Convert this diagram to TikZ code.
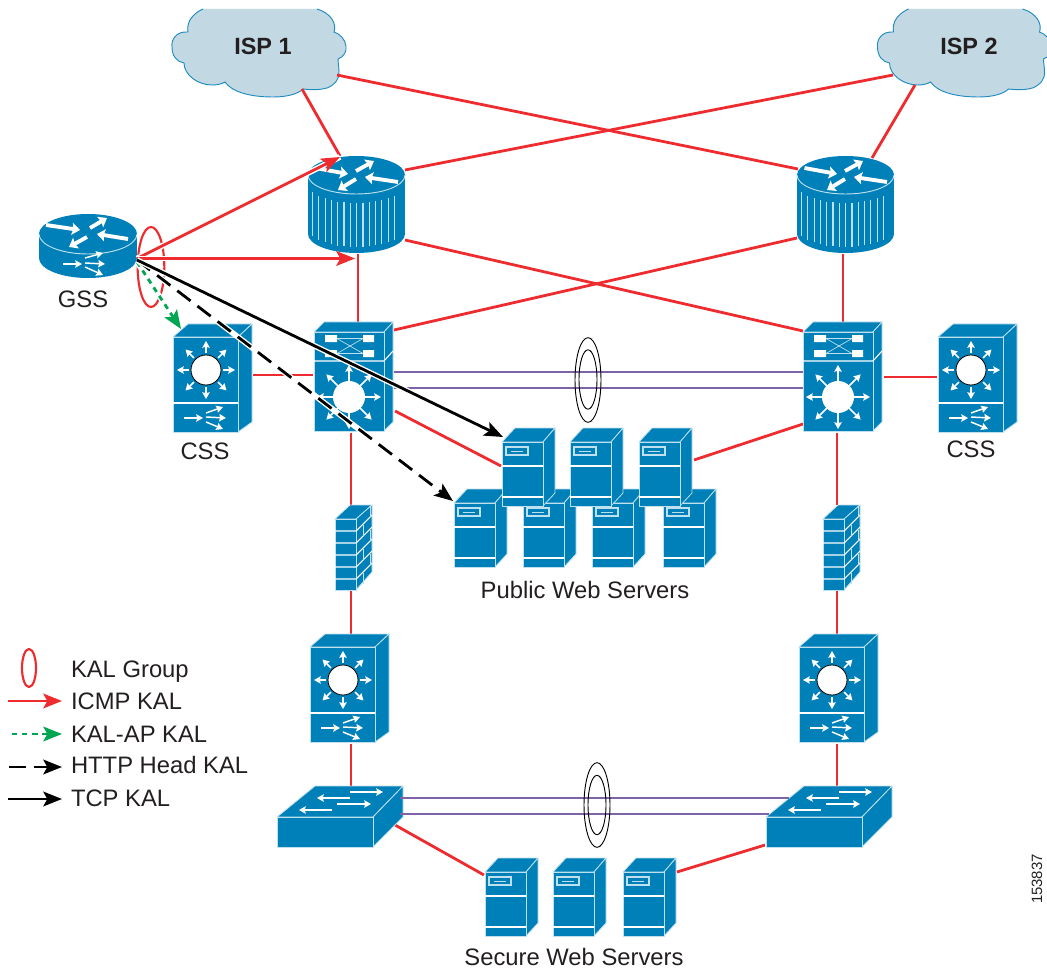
\documentclass[tikz,border=0pt]{standalone}
\usepackage{fontspec}
\setmainfont{Liberation Sans}
\usetikzlibrary{arrows.meta,shapes.geometric}
\definecolor{dev}{HTML}{0080B9}
\definecolor{edge}{HTML}{BFE0EE}
\definecolor{kred}{HTML}{EE2C2F}
\definecolor{kpur}{HTML}{7F63A8}
\definecolor{kgrn}{HTML}{00A651}
\definecolor{cloudf}{HTML}{C2D9E3}
\definecolor{cloude}{HTML}{1F8CC0}
\definecolor{txt}{HTML}{231F20}
\tikzset{
 hit/.style={inner sep=0pt,outer sep=0pt},
 solid3d/.style={fill=dev,draw=edge,line width=.6pt,line join=round},
 wl/.style={draw=white,line width=.8pt},
 wa/.style={draw=white,line width=1.1pt,-{Stealth[length=5pt,width=5.5pt,inset=.6pt]}},
 wb/.style={draw=white,line width=2.9pt,-{Stealth[length=6pt,width=9pt,inset=1pt]}},
 redl/.style={draw=kred,line width=2.1pt},
 purl/.style={draw=kpur,line width=2pt},
 ringl/.style={ellipse,draw=black,line width=.7pt,inner sep=0pt,outer sep=0pt},
 kalring/.style={ellipse,draw=kred,line width=1.6pt,inner sep=0pt,outer sep=0pt},
 label/.style={font=\fontsize{17.85pt}{20pt}\selectfont,text=txt,anchor=base,inner sep=0pt,outer sep=0pt},
 legtext/.style={label,anchor=base west},
 ispt/.style={font=\fontsize{17.6pt}{20pt}\selectfont\bfseries,text=txt,anchor=base,inner sep=0pt},
 halo/.style={preaction={draw=white,line width=4.2pt,solid,-}},
 icmp/.style={draw=kred,line width=2.1pt,-{Stealth[length=14pt,width=11pt,inset=3pt]}},
 kalap/.style={draw=kgrn,line width=2.1pt,dash pattern=on 4pt off 3.6pt,-{Stealth[length=14pt,width=11pt,inset=3pt,fill=kgrn]}},
 httph/.style={draw=black,line width=2.1pt,dash pattern=on 12.5pt off 6.5pt,-{Stealth[length=14pt,width=11pt,inset=3pt]}},
 tcpk/.style={draw=black,line width=2.1pt,-{Stealth[length=14pt,width=11pt,inset=3pt]}},
 webserver/.pic={
  \path[solid3d] (0,0)--(13,-14)--(53,-14)--(41,0)--cycle;
  \path[solid3d] (41,0)--(53,-14)--(53,51)--(41,64)--cycle;
  \path[solid3d] (0,0) rectangle (41,64);
  \draw[wl] (0,24)--(41,24) (0,55)--(41,55);
  \draw[draw=edge,line width=.8pt] (4,5) rectangle (26,13);
  \draw[draw=edge,line width=.7pt] (9,9)--(21,9);
 },
 fanpart/.pic={
  \draw[wa] (11,81)--(30,81);
  \draw[wa] (33,76)--(50,70);
  \draw[wa] (33,80)--(53,81);
  \draw[wa] (33,85)--(50,92);
 },
 mls/.pic={
  \path[solid3d] (0,0)--(15,-13)--(79,-13)--(65,0)--cycle;
  \path[solid3d] (65,0)--(79,-13)--(79,85)--(65,95)--cycle;
  \path[solid3d] (0,0) rectangle (65,95);
  \draw[wl] (0,66)--(65,66);
  \foreach \a in {0,45,...,315} {\draw[wa] (33,33)++(\a:17)--++(\a:12);}
  \draw[fill=white,draw=black,line width=.6pt] (33,33) circle[radius=15];
  \pic at (0,0) {fanpart};
 },
 stackswitch/.pic={
  \path[solid3d] (0,0)--(10,-10)--(79,-10)--(70,0)--cycle;
  \path[solid3d] (70,0)--(79,-10)--(79,90)--(70,99)--cycle;
  \path[solid3d] (0,0) rectangle (70,99);
  \draw[wl] (0,29)--(70,29)--(79,19);
  \draw[draw=edge,line width=.5pt] (23,6.5)--(49,6.5) (23,21.5)--(49,21.5) (23,6.5)--(49,21.5) (23,21.5)--(49,6.5);
  \fill[white] (11,3) rectangle (23,10) (49,3) rectangle (60,10) (11,18) rectangle (23,25) (49,18) rectangle (60,25);
  \foreach \a in {0,45,...,315} {\draw[wa] (35,65)++(\a:15)--++(\a:17);}
  \fill[white] (35,65) circle[radius=16];
 },
 firewallpic/.pic={
  \path[solid3d] (0,0)--(15,-14)--(37,-14)--(21,0)--cycle;
  \path[solid3d] (21,0)--(37,-14)--(37,53)--(21,71)--cycle;
  \path[solid3d] (0,0) rectangle (21,71);
  \foreach \r in {12,24,36,48,60} {\draw[wl] (0,\r)--(21,\r)--(37,{\r-16});}
  \foreach \r/\b in {0/0,12/1,24/0,36/1,48/0,60/1} {\pgfmathsetmacro\u{\b==0?12:6}
    \draw[draw=edge,line width=.8pt] ({21+\u*1.2},{\r-\u*1.2+1})--++(0,11);}
 },
 lanswitch/.pic={
  \path[solid3d] (0,0)--(38,-31)--(126,-31)--(96,0)--cycle;
  \path[solid3d] (96,0)--(126,-31)--(126,0)--(96,30)--cycle;
  \path[solid3d] (0,0) rectangle (96,30);
  \draw[wa] (73,-25)--(106,-25);
  \draw[wa] (73,-19)--(40,-19);
  \draw[wa] (60,-13)--(94,-13);
  \draw[wa] (55,-7)--(22,-7);
 },
 gssrouter/.pic={
  \fill[dev] (0,24) ellipse[x radius=49,y radius=20];
  \fill[dev] (-49,0) rectangle (49,24);
  \fill[dev] (0,0) ellipse[x radius=49,y radius=20];
  \draw[draw=edge,line width=.7pt] (-49,0) .. controls (-49,11) and (-27,20) .. (0,20) .. controls (27,20) and (49,11) .. (49,0);
  \draw[wb] (-42,-9)--(-8,-4);
  \draw[wb] (2,-6)--(19,-16);
  \draw[wb] (40,5)--(9,0);
  \draw[wb] (-1,3)--(-19,13);
  \draw[wa] (-25,30)--(-6,30);
  \draw[wa] (-3,24)--(15,19);
  \draw[wa] (-3,29)--(17,30);
  \draw[wa] (-3,33)--(15,41);
 },
 corerouter/.pic={
  \fill[dev] (0,59) ellipse[x radius=48.5,y radius=19];
  \fill[dev] (-48.5,0) rectangle (48.5,59);
  \fill[dev] (0,0) ellipse[x radius=48.5,y radius=19];
  \draw[draw=edge,line width=.7pt] (-48.5,0) .. controls (-48.5,10.5) and (-27,19) .. (0,19) .. controls (27,19) and (48.5,10.5) .. (48.5,0);
  \foreach \sx in {-44,-37.7,...,44.1} {
    \pgfmathsetmacro\dy{19*sqrt(1-(\sx/48.5)^2)}
    \draw[draw=edge,line width=.9pt] (\sx,{\dy+9})--(\sx,{\dy+53});
  }
  \draw[wb] (-41,-7)--(-8.5,-1);
  \draw[wb] (-0.5,-4)--(17.5,-14);
  \draw[wb] (41.5,7)--(8.5,2);
  \draw[wb] (-0.5,4)--(-18.5,15);
 },
 cloudpic/.pic={
  \draw[fill=cloudf,draw=cloude,line width=.7pt]
   (203,9) .. controls (194,13) and (186,21) .. (188,32)
   .. controls (176,31) and (171,40) .. (172,47)
   .. controls (172,56) and (177,62) .. (184,63)
   .. controls (184,75) and (198,85) .. (212,85)
   .. controls (217,85) and (222,84) .. (225,82)
   .. controls (232,92) and (250,97) .. (273,97)
   .. controls (287,97) and (298,94) .. (303,89)
   .. controls (312,90) and (320,90) .. (327,88)
   .. controls (335,85) and (340,78) .. (339,72)
   .. controls (339,67) and (338,63) .. (338,59)
   .. controls (344,57) and (347,51) .. (346,46)
   .. controls (345,39) and (340,34) .. (334,32)
   .. controls (337,24) and (331,13) .. (317,9);
 },
}
\begin{document}
\begin{tikzpicture}[x=.75pt,y=-.75pt]
\useasboundingbox (0,0) rectangle (1047,970);
% clouds
\begin{scope}
 \clip (0,0) rectangle (1047,970);
 \pic at (0,0) {cloudpic};
 \pic at (705.5,0) {cloudpic};
\end{scope}
\node[hit,minimum width=130pt,minimum height=66pt] (isp1) at (259,53) {};
\node[hit,minimum width=130pt,minimum height=66pt] (isp2) at (964.5,53) {};
\node[ispt] (isp1t) at (263,55) {ISP 1};
\node[ispt] (isp2t) at (969,55) {ISP 2};
% anchor boxes
\node[hit,minimum width=73pt,minimum height=48pt] (gss) at (88,246) {};
\node[hit,minimum width=73pt,minimum height=73pt] (r1) at (356.5,204.5) {};
\node[hit,minimum width=73pt,minimum height=73pt] (r2) at (845.5,204.5) {};
\node[hit,minimum width=59pt,minimum height=82pt] (s1) at (353.5,377.5) {};
\node[hit,minimum width=59pt,minimum height=82pt] (s2) at (842.5,377.5) {};
\node[hit,minimum width=28pt,minimum height=64pt] (fw1) at (353.5,547.5) {};
\node[hit,minimum width=28pt,minimum height=64pt] (fw2) at (841.5,547.5) {};
\node[hit,minimum width=95pt,minimum height=46pt] (l2a) at (340,816.5) {};
\node[hit,minimum width=95pt,minimum height=46pt] (l2b) at (829,816.5) {};
\node[hit,minimum width=59pt,minimum height=81pt] (css1) at (212.5,378) {};
\node[hit,minimum width=59pt,minimum height=81pt] (css2) at (977.5,378) {};
\node[hit,minimum width=59pt,minimum height=81pt] (m1) at (349.5,688) {};
\node[hit,minimum width=59pt,minimum height=81pt] (m2) at (838.5,688) {};
\node[hit,minimum width=40pt,minimum height=58pt] (t1) at (528.5,467) {};
\node[hit,minimum width=40pt,minimum height=58pt] (t3) at (665.5,467) {};
\node[hit,minimum width=40pt,minimum height=58pt] (b1) at (480.5,528) {};
\node[hit,minimum width=40pt,minimum height=58pt] (sec1) at (511.5,897) {};
\node[hit,minimum width=40pt,minimum height=58pt] (sec3) at (649.5,897) {};
% red links
\draw[redl] ([shift={(43,36)}]isp1.center)--([shift={(-16.5,-48.5)}]r1.center);
\draw[redl] ([shift={(78,22)}]isp1.center)--([shift={(-47.5,-35.5)}]r2.center);
\draw[redl] ([shift={(-49.5,32)}]isp2.center)--([shift={(26.5,-46.5)}]r2.center);
\draw[redl] ([shift={(-71.5,22)}]isp2.center)--([shift={(48.5,-34.5)}]r1.center);
\draw[redl] ([shift={(1.5,49.5)}]r1.center)--([shift={(4.5,-54.5)}]s1.center);
\draw[redl] ([shift={(-2.5,49.5)}]r2.center)--([shift={(0.5,-54.5)}]s2.center);
\draw[redl] ([shift={(48.5,35.5)}]r1.center)--([shift={(-39.5,-46.5)}]s2.center);
\draw[redl] ([shift={(-48.5,33.5)}]r2.center)--([shift={(40.5,-47.5)}]s1.center);
\draw[redl] ([shift={(40.5,-3)}]css1.center)--([shift={(-40.5,-2.5)}]s1.center);
\draw[redl] ([shift={(41.5,-.5)}]s2.center)--([shift={(-40.5,-1)}]css2.center);
\draw[redl] ([shift={(41.5,33.5)}]s1.center)--([shift={(-27.5,-1)}]t1.center);
\draw[redl] ([shift={(28.5,-7)}]t3.center)--([shift={(-39.5,46.5)}]s2.center);
\draw[redl] ([shift={(-2.5,55.5)}]s1.center)--([shift={(-2.5,-42.5)}]fw1.center);
\draw[redl] ([shift={(-2.5,43.5)}]fw1.center)--([shift={(1.5,-54)}]m1.center);
\draw[redl] ([shift={(1.5,55.5)}]m1.center)--([shift={(11,-30.5)}]l2a.center);
\draw[redl] ([shift={(-5.5,55.5)}]s2.center)--([shift={(-4.5,-42.5)}]fw2.center);
\draw[redl] ([shift={(-4.5,43.5)}]fw2.center)--([shift={(-1.5,-54)}]m2.center);
\draw[redl] ([shift={(-1.5,55.5)}]m2.center)--([shift={(8,-30.5)}]l2b.center);
\draw[redl] ([shift={(55,8.5)}]l2a.center)--([shift={(-27.5,-22)}]sec1.center);
\draw[redl] ([shift={(27.5,-25)}]sec3.center)--([shift={(-64,28.5)}]l2b.center);
% devices
\pic at (356.5,175) {corerouter};
\pic at (845.5,175) {corerouter};
\pic at (88,234) {gssrouter};
\pic at (173,337) {mls};
\pic at (938,337) {mls};
\pic at (310,647) {mls};
\pic at (799,647) {mls};
\pic at (314,332) {stackswitch};
\pic at (803,332) {stackswitch};
\pic at (335,519) {firewallpic};
\pic at (823,519) {firewallpic};
\pic at (277,817) {lanswitch};
\pic at (766,817) {lanswitch};
% purple trunks
\draw[purl] ([shift={(40.5,-5.5)}]s1.center)--([shift={(-39.5,-5.5)}]s2.center);
\draw[purl] ([shift={(40.5,10.5)}]s1.center)--([shift={(-39.5,10.5)}]s2.center);
\draw[purl] ([shift={(60,-18.5)}]l2a.center)--([shift={(-40,-18.5)}]l2b.center);
\draw[purl] ([shift={(60,-2.5)}]l2a.center)--([shift={(-60,-2.5)}]l2b.center);
\node[ringl,minimum width=19.5pt,minimum height=63.5pt] (ring1o) at (588,380) {};
\node[ringl,minimum width=13.5pt,minimum height=44.5pt] (ring1i) at (588,379.5) {};
\node[ringl,minimum width=19.5pt,minimum height=63.5pt] (ring2o) at (597,805) {};
\node[ringl,minimum width=13.5pt,minimum height=44.5pt] (ring2i) at (597,805) {};
% servers
\pic at (454,503) {webserver};
\pic at (523,503) {webserver};
\pic at (592,503) {webserver};
\pic at (663,503) {webserver};
\pic at (502,442) {webserver};
\pic at (570,442) {webserver};
\pic at (639,442) {webserver};
\pic at (485,872) {webserver};
\pic at (553,872) {webserver};
\pic at (623,872) {webserver};
% keepalives
\node[kalring,minimum width=20pt,minimum height=60pt] (kal) at (151,267) {};
\draw[icmp,halo] ([shift={(49,12.5)}]gss.center)--([shift={(-16.5,-47.5)}]r1.center);
\draw[icmp,halo] ([shift={(49,12.5)}]gss.center)--([shift={(-1.5,54)}]r1.center);
\draw[kalap,halo] ([shift={(49,16)}]gss.center)--([shift={(-31.5,-49)}]css1.center);
\draw[httph,halo] ([shift={(49,14)}]gss.center)--([shift={(-27.5,-27)}]b1.center);
\draw[tcpk,halo] ([shift={(49,14)}]gss.center)--([shift={(-25.5,-30)}]t1.center);
% labels
\node[label] (gsst) at (83,307) {GSS};
\node[label] (css1t) at (205,459) {CSS};
\node[label] (css2t) at (971,457) {CSS};
\node[label] (pubt) at (585,598) {Public Web Servers};
\node[label] (sect) at (574,965) {Secure Web Servers};
\node[font=\fontsize{11.2pt}{13pt}\selectfont,text=txt,rotate=90,inner sep=0pt] (num) at (1037,879) {153837};
% legend
\node[kalring,minimum width=10.5pt,minimum height=28.5pt] (legkal) at (29,668) {};
\node[legtext] (lt1) at (71,677) {KAL Group};
\node[legtext] (lt2) at (71,709) {ICMP KAL};
\node[legtext] (lt3) at (71,742) {KAL-AP KAL};
\node[legtext] (lt4) at (71,773) {HTTP Head KAL};
\node[legtext] (lt5) at (71,806) {TCP KAL};
\coordinate (la) at (8,701); \coordinate (lae) at (62,701);
\coordinate (lb) at (12,734); \coordinate (lbe) at (62,734);
\coordinate (lc) at (9,767); \coordinate (lce) at (62,767);
\coordinate (ld) at (8,799); \coordinate (lde) at (62,799);
\draw[icmp] (la)--(lae);
\draw[kalap] (lb)--(lbe);
\draw[httph] (lc)--(lce);
\draw[tcpk] (ld)--(lde);
\end{tikzpicture}
\end{document}
